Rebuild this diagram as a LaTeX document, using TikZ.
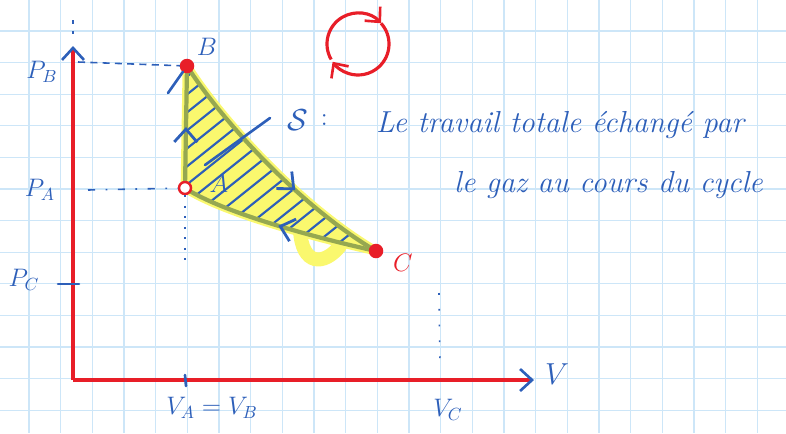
\documentclass[tikz,border=0pt]{standalone}
\usepackage{amsmath,amssymb}
\usepackage{fontspec}
\usetikzlibrary{positioning,arrows.meta,decorations.markings,backgrounds}
\definecolor{pen}{RGB}{45,95,185}
\definecolor{redpen}{RGB}{232,30,40}
\definecolor{gridblue}{RGB}{205,230,248}
\definecolor{highlight}{RGB}{250,248,110}
\definecolor{olivepen}{RGB}{150,168,80}

\begin{document}
\begin{tikzpicture}[
  x=0.02cm, y=-0.02cm,
  gridline/.style={draw=gridblue, line width=0.7pt},
  axis/.style={draw=redpen, line width=1.8pt},
  stroke/.style={draw=pen, line width=1.5pt, line cap=round},
  barb/.style={-{Straight Barb[length=2.4mm, width=4.4mm, color=pen, line width=1.5pt]}},
  redbarb/.style={-{Straight Barb[length=2.2mm, width=4.2mm, line width=1.5pt]}},
  guide/.style={draw=pen, line width=0.9pt},
  state/.style={circle, draw=redpen, line width=1.4pt, inner sep=0pt, minimum size=2.4mm},
  edge/.style={draw=olivepen, line width=2.4pt, line cap=round},
  flow/.style={postaction={decorate, decoration={markings,
    mark=at position #1 with {\arrow{Straight Barb[length=2.6mm, width=4.6mm, color=pen, line width=1.6pt]}}}}},
  lbl/.style={text=pen, font=\Large},
]
\useasboundingbox (0,0) rectangle (786,433);

% states
\node[state, fill=white] (A) at (185,188) {};
\node[state, fill=redpen] (B) at (187,66) {};
\node[state, fill=redpen] (C) at (376,251) {};

\begin{pgfonlayer}{background}
% squared paper
\foreach \i in {0,...,23} \draw[gridline] ({29+31.67*\i},0) -- ({29+31.67*\i},433);
\foreach \j in {0,...,12} \draw[gridline] (0,{31+31.6*\j}) -- (786,{31+31.6*\j});

% highlighted area of the cycle
\path[fill=highlight, draw=highlight, line width=5pt, line join=round]
  (A.center) -- (B.center) .. controls (220,118) and (298,205) .. (C.center)
  .. controls (290,232) and (215,208) .. (A.center) -- cycle;
\coordinate (h1) at (300,230);
\coordinate (h2) at (340,246);
\draw[highlight, line width=8pt, line cap=round] (h1) .. controls (302,266) and (324,266) .. (h2);

% hatching
\begin{scope}
  \clip (A.center) -- (B.center) .. controls (220,118) and (298,205) .. (C.center)
    .. controls (290,232) and (215,208) .. (A.center) -- cycle;
  \foreach \c in {226,244,...,520}
    \draw[stroke, line width=1.2pt] (150,{\c-0.8*150}) -- (420,{\c-0.8*420});
\end{scope}

% cycle A -> B -> C -> A
\draw[edge, flow=0.5] (A.center) -- (B.center);
\draw[edge, flow=0.62] (B.center) .. controls (220,118) and (298,205) .. (C.center);
\draw[edge, flow=0.5] (C.center) .. controls (290,232) and (215,208) .. (A.center);
\end{pgfonlayer}

% axes
\coordinate (O) at (73,380);
\coordinate (ytop) at (73,46);
\coordinate (xend) at (534,380);
\draw[axis, barb] (O) -- (ytop);
\draw[axis, barb] (O) -- (xend);
\coordinate (yt1) at (73,20);
\coordinate (yt2) at (73,38);
\draw[guide, dash pattern=on 2pt off 4pt] (yt1) -- (yt2);

\coordinate (b1) at (168,93);
\draw[stroke] (B) -- (b1);

% guides
\coordinate (pB) at (78,62);
\draw[guide, dash pattern=on 4pt off 3pt] (pB) -- (B);
\coordinate (pA) at (88,190);
\draw[guide, dash pattern=on 4pt off 6pt on 1pt off 6pt] (pA) -- (A);
\coordinate (vA) at (185,268);
\draw[guide, dash pattern=on 1pt off 5pt] (A) -- (vA);
\coordinate (vC1) at (439,293);
\coordinate (vC2) at (440,372);
\draw[guide, dash pattern=on 1pt off 8pt] (vC1) -- (vC2);

% ticks
\coordinate (tC1) at (58,284);
\coordinate (tC2) at (79,284);
\draw[stroke] (tC1) -- (tC2);
\coordinate (tA1) at (185,375);
\coordinate (tA2) at (186,386);
\draw[stroke] (tA1) -- (tA2);

% labels
\node[lbl] (lB) at (207,47) {$B$};
\node[lbl] (lA) at (219,184) {$A$};
\node[text=redpen, font=\Large] (lC) at (403,263) {$C$};
\node[lbl] (PB) at (42,72) {$P_B$};
\node[lbl] (PA) at (40,190) {$P_A$};
\node[lbl] (PC) at (24,280) {$P_C$};
\node[lbl] (VAB) at (212,408) {$V_A = V_B$};
\node[lbl] (VC) at (448,410) {$V_C$};
\node[lbl, font=\LARGE] (V) at (557,374) {$V$};

% area symbol and its pointer
\node[lbl, font=\LARGE] (sym) at (298,120) {$\mathcal{S}$};
\node[lbl, right=0pt of sym] (colon) {:};
\coordinate (p1) at (270,118);
\coordinate (p2) at (205,165);
\draw[stroke] (p1) -- (p2);

\node[lbl, font=\LARGE\itshape, anchor=west] (work1) at (370,125) {Le travail totale échangé par};
\node[lbl, font=\LARGE\itshape, anchor=west] (work2) at (448,185) {le gaz au cours du cycle};

% sense of the cycle
\coordinate (rot) at (358,44);
\draw[redpen, line width=1.8pt, redbarb] ([shift={(150:31)}]rot) arc[start angle=150, end angle=318, radius=31];
\draw[redpen, line width=1.8pt, redbarb] ([shift={(318:31)}]rot) arc[start angle=318, end angle=505, radius=31];
\end{tikzpicture}
\end{document}
